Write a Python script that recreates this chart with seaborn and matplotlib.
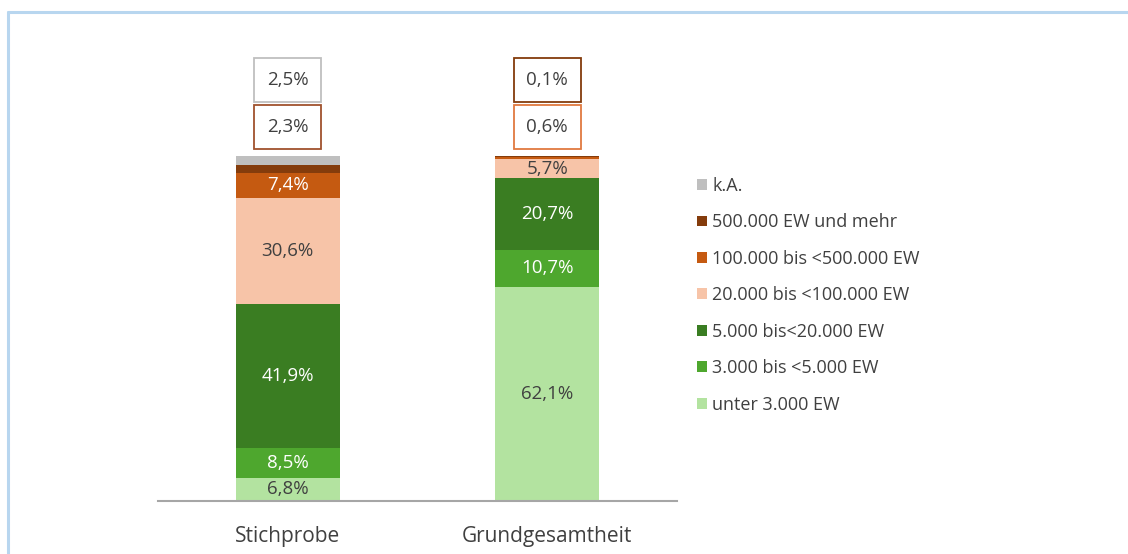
import pandas as pd
import seaborn as sns
import matplotlib.pyplot as plt
from matplotlib.patches import Patch
from matplotlib.lines import Line2D

# Data (percent), stacked bottom -> top
gruppen = ['Stichprobe', 'Grundgesamtheit']
kategorien = ['unter 3.000 EW', '3.000 bis <5.000 EW', '5.000 bis<20.000 EW',
              '20.000 bis <100.000 EW', '100.000 bis <500.000 EW',
              '500.000 EW und mehr', 'k.A.']
stichprobe = [6.8, 8.5, 41.9, 30.6, 7.4, 2.3, 2.5]
grundgesamtheit = [62.1, 10.7, 20.7, 5.7, 0.6, 0.1, 0.0]
farben = ['#b3e3a0', '#4ea72e', '#3a7d22', '#f7c4a8', '#c55a11', '#843c0c', '#bfbfbf']
textfarben = ['#404040', 'white', 'white', '#404040', 'white', None, None]

TXT = '#404040'

sns.set_theme(style='white')
plt.rcParams['font.family'] = ['Open Sans', 'DejaVu Sans']

df = pd.DataFrame({'gruppe': gruppen})
werte = [stichprobe, grundgesamtheit]
for i, k in enumerate(kategorien):
    df[k] = [w[i] for w in werte]
cum = df[kategorien].cumsum(axis=1)

fig = plt.figure(figsize=(11.28, 5.54), dpi=100)
ax = fig.add_axes([158 / 1128, 53 / 554, 519 / 1128, 461 / 554])

# stacked bars by overdrawing cumulative sums, top segment first
for i in reversed(range(len(kategorien))):
    d = pd.DataFrame({'gruppe': gruppen, 'wert': cum[kategorien[i]].values})
    sns.barplot(data=d, x='gruppe', y='wert', order=gruppen, color=farben[i],
                width=0.4, errorbar=None, saturation=1, ax=ax, linewidth=0)

# labels inside segments
for j, w in enumerate(werte):
    unten = 0
    for i, v in enumerate(w):
        if textfarben[i] is not None and v >= 3:
            ax.text(j, unten + v / 2, f'{v:.1f}%'.replace('.', ','), ha='center',
                    va='center', fontsize=13.5, color=textfarben[i])
        unten += v

# boxed labels for small segments above the bars
boxen = [
    (0, 2.5, farben[6], 122.0),
    (0, 2.3, '#a0522d', 108.4),
    (1, 0.1, farben[5], 122.0),
    (1, 0.6, '#e07a40', 108.4),
]
for j, v, c, y in boxen:
    ax.text(j, y, f'{v:.1f}%'.replace('.', ','), ha='center', va='center',
            fontsize=13.5, color=TXT,
            bbox=dict(boxstyle='square,pad=0.68', fc='white', ec=c, lw=1.3))

ax.set_xlim(-0.5, 1.5)
ax.set_ylim(0, 133.6)
ax.set_xlabel('')
ax.set_ylabel('')
ax.set_yticks([])
ax.tick_params(axis='x', length=0, pad=18, labelsize=15, labelcolor=TXT)
for s in ['top', 'right', 'left']:
    ax.spines[s].set_visible(False)
ax.spines['bottom'].set_color('#a6a6a6')
ax.spines['bottom'].set_linewidth(1.5)

handles = [Patch(facecolor=farben[i], edgecolor='none', label=kategorien[i])
           for i in reversed(range(len(kategorien)))]
fig.legend(handles=handles, loc='upper left', bbox_to_anchor=(697 / 1128, 1 - 177 / 554),
           frameon=False, fontsize=13, handlelength=0.55, handleheight=0.55,
           handletextpad=0.3, labelspacing=1.02, borderpad=0, borderaxespad=0,
           labelcolor=TXT)

# light blue frame lines
fig.add_artist(Line2D([8 / 1128, 8 / 1128], [0, 1 - 12 / 554], color='#b8d6ef', lw=2.2,
                      transform=fig.transFigure))
fig.add_artist(Line2D([8 / 1128, 1], [1 - 12 / 554, 1 - 12 / 554], color='#b8d6ef', lw=2.2,
                      transform=fig.transFigure))

fig.savefig('out.png', dpi=100)
